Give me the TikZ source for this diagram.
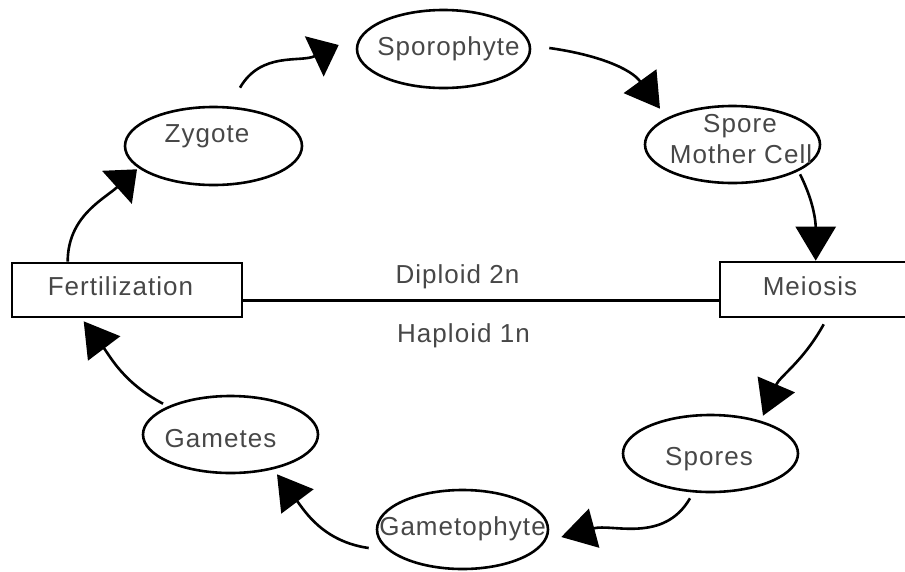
\documentclass[tikz,border=0pt]{standalone}
\usepackage{fontspec}
\newfontfamily\labfont{Liberation Sans}[LetterSpace=4]
\usetikzlibrary{arrows.meta,calc,shapes.geometric}
\begin{document}
\begin{tikzpicture}[x=1pt,y=-1pt,
  oval/.style={ellipse,draw,line width=2.6pt,inner sep=0pt},
  box/.style={rectangle,draw,line width=2.6pt,inner sep=0pt},
  txt/.style={anchor=base,inner sep=0pt,text=black!72,font=\labfont\fontsize{26}{30}\selectfont},
  conn/.style={line width=2.6pt,-{Triangle[length=34pt,width=40pt]}},
  shortconn/.style={line width=2.6pt,-{Triangle[length=27pt,width=44pt]}}]
\useasboundingbox (0,0) rectangle (905,571);

% shapes
\node[oval,minimum width=173pt,minimum height=78pt] (spor) at (443.5,49) {};
\node[oval,minimum width=177pt,minimum height=78pt] (zyg) at (213.5,146) {};
\node[oval,minimum width=175pt,minimum height=77pt] (smc) at (732.5,144.5) {};
\node[oval,minimum width=175pt,minimum height=77pt] (gam) at (230.5,434.5) {};
\node[oval,minimum width=175pt,minimum height=77pt] (spores) at (710.5,453.5) {};
\node[oval,minimum width=171pt,minimum height=79pt] (gtp) at (462.5,529.5) {};
\node[box,minimum width=230pt,minimum height=54pt] (fert) at (127,290) {};
\node[box,minimum width=194pt,minimum height=55pt] (meio) at (817,289.5) {};

% texts
\node[txt] (sporT) at (448.5,55) {Sporophyte};
\node[txt] (zygT) at (207,142) {Zygote};
\node[txt] (smcT1) at (740,132) {Spore};
\node[txt] (smcT2) at (741,163) {Mother Cell};
\node[txt] (fertT) at (120.5,295) {Fertilization};
\node[txt] (meioT) at (810,295) {Meiosis};
\node[txt] (dipT) at (457.5,283) {Diploid 2n};
\node[txt] (hapT) at (463.5,342) {Haploid 1n};
\node[txt] (gamT) at (220.5,447) {Gametes};
\node[txt] (sporesT) at (709,465) {Spores};
\node[txt] (gtpT) at (462.5,535) {Gametophyte};

% dividing line
\draw[line width=2.6pt] ($(fert.south east)+(0,-18)$) -- ($(meio.south west)+(0,-18)$);

% cycle arrows
\draw[shortconn] ($(fert.north west)+(57,0)$) to[out=90,in=222] ($(zyg.south)+(-76.5,-17)$);
\draw[shortconn] ($(zyg.north)+(26.5,-18)$) to[out=60,in=205] ($(spor.west)+(-17,-4)$);
\draw[conn] ($(spor.east)+(18,-1)$) to[out=-8,in=126] ($(smc.north)+(-72.5,4)$);
\draw[conn] ($(smc.south)+(67.5,-10)$) to[out=-63,in=90] ($(meio.north west)+(97,0)$);
\draw[conn] ($(meio.south west)+(105,6)$) to[out=-119,in=67] ($(spores.north)+(52.5,2)$);
\draw[conn] ($(spores.south)+(-20.5,5)$) to[out=-120,in=15] ($(gtp.east)+(12,7.5)$);
\draw[conn] ($(gtp.west)+(-7,18.5)$) to[out=172,in=-53] ($(gam.south)+(46.5,0)$);
\draw[conn] ($(gam.north)+(-67.5,9)$) to[out=152,in=-53] ($(fert.south west)+(73,3)$);
\end{tikzpicture}
\end{document}
